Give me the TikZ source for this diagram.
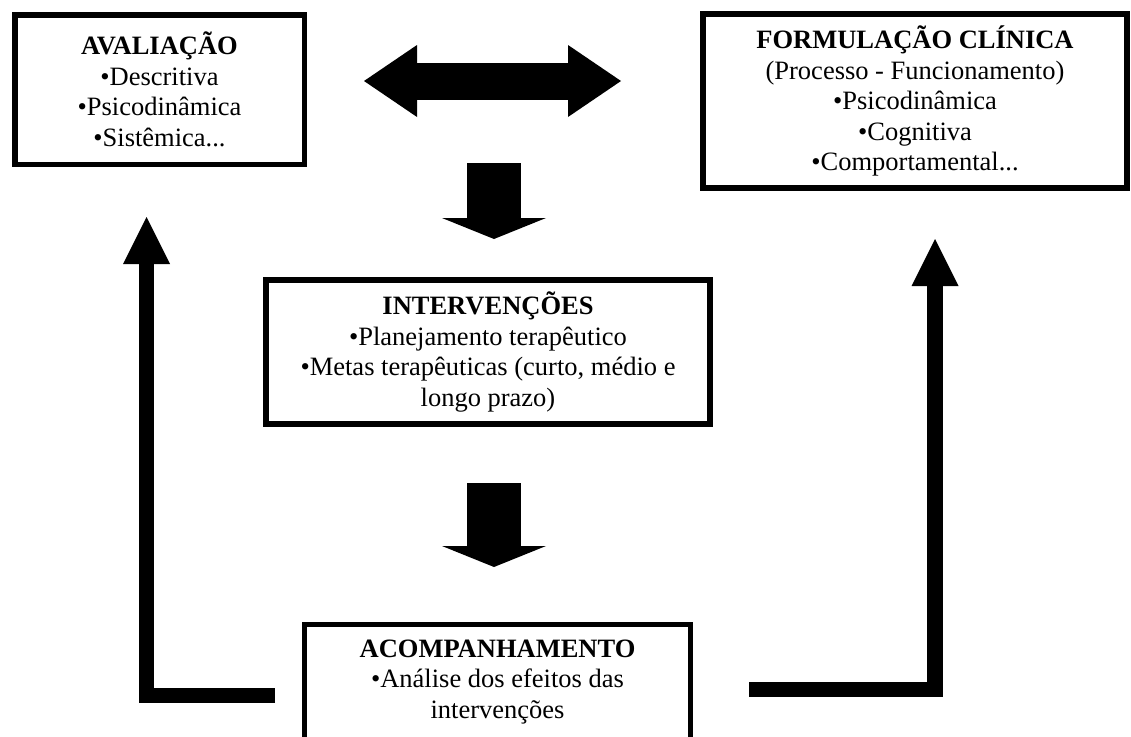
\documentclass[tikz,border=0pt]{standalone}
\usepackage{fontspec}
\setmainfont{Liberation Serif}
\usetikzlibrary{arrows.meta}

\tikzset{
  caixa/.style={draw, line width=5.5pt, inner sep=0pt, align=center,
    font=\fontsize{26.5}{30.5}\selectfont},
  setadupla/.style={line width=37pt,
    {Triangle[length=53pt,width=72pt,line width=0pt]}-{Triangle[length=53pt,width=72pt,line width=0pt]}},
  setabaixo/.style={line width=54pt, -{Triangle[length=21pt,width=104pt,line width=0pt]}},
  setaretorno/.style={line width=15.5pt, line join=miter,
    -{Triangle[length=47pt,width=47pt,line width=0pt]}},
}

\begin{document}
\begin{tikzpicture}[x=1pt, y=-1pt, line cap=butt]
\useasboundingbox (0,0) rectangle (1131,736);

% caixas
\node[caixa, minimum width=289.5, minimum height=149.5] (aval) at (159.5,89.5)
  {\textbf{AVALIAÇÃO}\\•Descritiva\\•Psicodinâmica\\•Sistêmica...};
\node[caixa, minimum width=424, minimum height=174] (form) at (915,101)
  {\textbf{FORMULAÇÃO CLÍNICA}\\(Processo - Funcionamento)\\•Psicodinâmica\\•Cognitiva\\•Comportamental...};
\node[caixa, minimum width=444, minimum height=144] (interv) at (488,352)
  {\textbf{INTERVENÇÕES}\\•Planejamento terapêutico\\•Metas terapêuticas (curto, médio e\\longo prazo)};
\node[caixa, minimum width=386, minimum height=115] (acomp) at (497.5,682)
  {\textbf{ACOMPANHAMENTO}\\•Análise dos efeitos das\\intervenções};

%---------------------------------------------------------------------------------------------------
% setas
\coordinate (duplaE) at (364,81);
\coordinate (duplaD) at (621,81);
\draw[setadupla] (duplaE) -- (duplaD);

\coordinate (baixo1a) at (494,163);
\coordinate (baixo1b) at (494,239);
\draw[setabaixo] (baixo1a) -- (baixo1b);

\coordinate (baixo2a) at (494,483);
\coordinate (baixo2b) at (494,567);
\draw[setabaixo] (baixo2a) -- (baixo2b);

% retorno
\coordinate (retE) at (275,695.5);
\coordinate (pontaE) at (146.5,217);
\draw[setaretorno] (retE) -| (pontaE);

\coordinate (retD) at (749,689.5);
\coordinate (pontaD) at (935,239);
\draw[setaretorno] (retD) -| (pontaD);

\end{tikzpicture}
\end{document}
